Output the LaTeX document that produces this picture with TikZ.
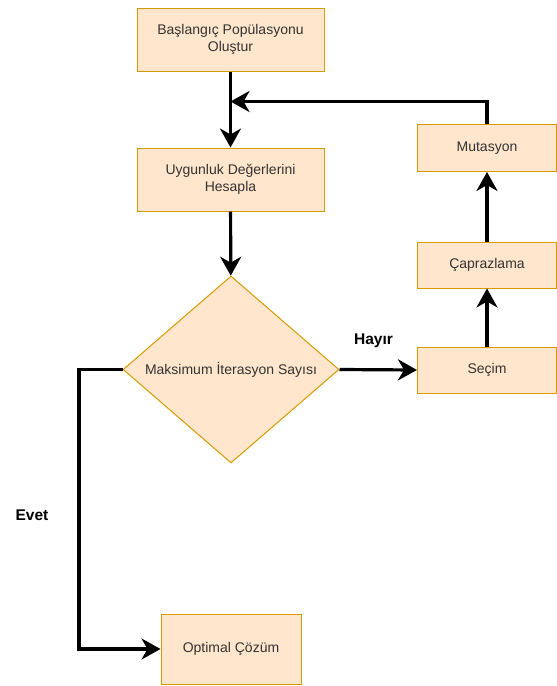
\documentclass[tikz,border=0pt]{standalone}
\usepackage{fontspec}
\setmainfont{Liberation Sans}
\usetikzlibrary{arrows.meta,shapes.geometric}
\definecolor{boxfill}{HTML}{FFE6CC}
\definecolor{boxdraw}{HTML}{D79B00}
\definecolor{txt}{HTML}{333333}
\begin{document}
\begin{tikzpicture}[x=1pt,y=-1pt,
  every node/.style={font=\fontsize{14}{17.5}\selectfont, text=txt},
  procbox/.style={draw=boxdraw, fill=boxfill, line width=1pt, minimum width=#1, align=center, inner sep=0pt},
  flow/.style={line width=3.2pt, -{Stealth[length=19pt,width=21pt,inset=6pt]}},
  lbl/.style={font=\bfseries\fontsize{15.5}{18}\selectfont, text=black}]
\useasboundingbox (0,0) rectangle (557,686);
\node[procbox=187pt, minimum height=63pt] (start) at (230.5,39.5) {Başlangıç Popülasyonu\\Oluştur};
\node[procbox=187pt, minimum height=63pt] (fit) at (230.5,179.5) {Uygunluk Değerlerini\\Hesapla};
\node[draw=boxdraw, fill=boxfill, line width=1pt, diamond, minimum width=216pt, minimum height=187pt, inner sep=0pt] (dec) at (231,369.5) {Maksimum İterasyon Sayısı};
\node[procbox=139pt, minimum height=46pt] (sel) at (487,370) {Seçim};
\node[procbox=139pt, minimum height=46pt] (cross) at (487,265) {Çaprazlama};
\node[procbox=139pt, minimum height=47pt] (mut) at (487,148) {Mutasyon};
\node[procbox=140pt, minimum height=70pt] (opt) at (231,649) {Optimal Çözüm};
\coordinate (join) at (230.5,101.5);
\node[lbl] (hayir) at (373.5,340.5) {Hayır};
\node[lbl] (evet) at (32,515.5) {Evet};
\draw[flow] (start) -- (fit);
\draw[flow] (fit) -- (dec);
\draw[flow] (dec.east) -- (sel.west);
\draw[flow] (sel) -- (cross);
\draw[flow] (cross) -- (mut);
\draw[flow] (mut.north) |- (join);
\draw[flow] (dec.west) -- (79,369.5) |- (opt.west);
\end{tikzpicture}
\end{document}
